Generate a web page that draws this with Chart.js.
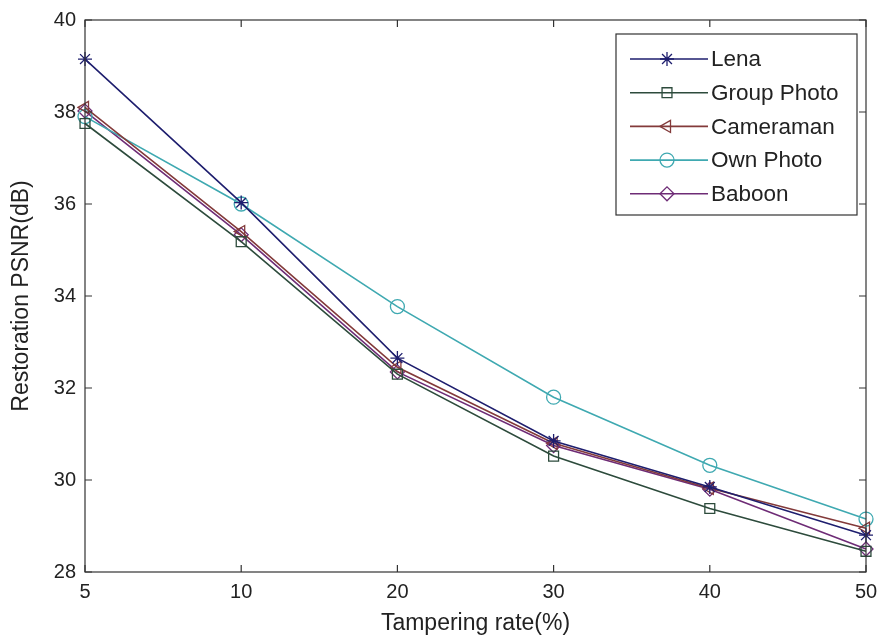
<!DOCTYPE html>
<html>
<head>
<meta charset="utf-8">
<script src="https://cdn.jsdelivr.net/npm/chart.js@4"></script>
<style>
  html, body { margin: 0; padding: 0; background: #fff; }
  #wrap { width: 880px; height: 643px; position: relative; }
</style>
</head>
<body>
<div id="wrap"><canvas id="psnrChart"></canvas></div>
<script>
// Datos
const tamperingRates = ['5', '10', '20', '30', '40', '50'];
const lena = [39.15, 36.03, 32.65, 30.85, 29.85, 28.8];
const groupPhoto = [37.75, 35.18, 32.3, 30.52, 29.38, 28.45];
const cameraman = [38.1, 35.4, 32.45, 30.8, 29.82, 28.95];
const ownPhoto = [37.9, 36.0, 33.77, 31.8, 30.32, 29.15];
const baboon = [38.02, 35.33, 32.35, 30.75, 29.8, 28.5];
const yTicks = [28, 30, 32, 34, 36, 38, 40];

const FONT = 'Arial, "Liberation Sans", sans-serif';

// Marco y marcas hacia dentro (estilo MATLAB)
const boxTicks = {
    id: 'boxTicks',
    afterDraw(chart) {
        const { ctx, chartArea: a, scales } = chart;
        const len = 7;
        ctx.save();
        ctx.strokeStyle = '#333';
        ctx.lineWidth = 1.2;
        ctx.strokeRect(a.left, a.top, a.right - a.left, a.bottom - a.top);
        ctx.beginPath();
        scales.x.ticks.forEach((t, i) => {
            const x = scales.x.getPixelForTick(i);
            ctx.moveTo(x, a.bottom); ctx.lineTo(x, a.bottom - len);
            ctx.moveTo(x, a.top); ctx.lineTo(x, a.top + len);
        });
        scales.y.ticks.forEach(t => {
            const y = scales.y.getPixelForValue(t.value);
            ctx.moveTo(a.left, y); ctx.lineTo(a.left + len, y);
            ctx.moveTo(a.right, y); ctx.lineTo(a.right - len, y);
        });
        ctx.stroke();
        ctx.restore();
    }
};

// Leyenda dentro del área del gráfico
const innerLegend = {
    id: 'innerLegend',
    afterDraw(chart) {
        const { ctx } = chart;
        const box = { left: 616, top: 34, right: 857, bottom: 215 };
        const rowTop = 59, rowGap = 33.7;
        ctx.save();
        ctx.fillStyle = '#fff';
        ctx.fillRect(box.left, box.top, box.right - box.left, box.bottom - box.top);
        ctx.strokeStyle = '#333';
        ctx.lineWidth = 1.2;
        ctx.strokeRect(box.left, box.top, box.right - box.left, box.bottom - box.top);
        chart.data.datasets.forEach((ds, i) => {
            const y = rowTop + i * rowGap;
            ctx.strokeStyle = ds.borderColor;
            ctx.lineWidth = ds.borderWidth;
            ctx.beginPath();
            ctx.moveTo(630, y); ctx.lineTo(708, y);
            ctx.stroke();
            ctx.fillStyle = 'rgba(0,0,0,0)';
            ctx.lineWidth = 1.3;
            if (Chart.helpers && Chart.helpers.drawPoint) {
                Chart.helpers.drawPoint(ctx, {
                    pointStyle: ds.pointStyle,
                    rotation: ds.pointRotation || 0,
                    radius: ds.pointRadius,
                    borderWidth: 1.3
                }, 667, y);
            }
            ctx.fillStyle = '#222';
            ctx.font = '22.5px ' + FONT;
            ctx.textBaseline = 'middle';
            ctx.textAlign = 'left';
            ctx.fillText(ds.label, 711, y + 1);
        });
        ctx.restore();
    }
};

function serie(label, data, color, style, rotation) {
    return {
        label: label,
        data: data,
        borderColor: color,
        backgroundColor: color,
        borderWidth: 1.6,
        pointStyle: style,
        pointRotation: rotation || 0,
        pointRadius: 7,
        pointBorderWidth: 1.3,
        pointBorderColor: color,
        pointBackgroundColor: 'rgba(0,0,0,0)',
        tension: 0,
        fill: false
    };
}

function init() {
    new Chart(document.getElementById('psnrChart'), {
        type: 'line',
        data: {
            labels: tamperingRates,
            datasets: [
                serie('Lena', lena, '#1e1e6e', 'star'),
                serie('Group Photo', groupPhoto, '#2d4b3c', 'rect'),
                serie('Cameraman', cameraman, '#833a3a', 'triangle', -90),
                serie('Own Photo', ownPhoto, '#3fa9b1', 'circle'),
                serie('Baboon', baboon, '#6e2c76', 'rectRot')
            ]
        },
        options: {
            responsive: true,
            maintainAspectRatio: false,
            animation: false,
            layout: { padding: { top: 20, right: 14, left: 0, bottom: 0 } },
            plugins: {
                legend: { display: false },
                tooltip: { enabled: false }
            },
            scales: {
                x: {
                    type: 'category',
                    offset: false,
                    grid: { display: false, drawTicks: false },
                    border: { display: false },
                    ticks: { color: '#222', font: { size: 20, family: FONT }, padding: 8, maxRotation: 0 },
                    title: {
                        display: true,
                        text: 'Tampering rate(%)',
                        color: '#222',
                        font: { size: 23, family: FONT },
                        padding: { top: 0, bottom: 6 }
                    },
                    afterFit(scale) {
                        scale.height = 71;
                        scale.paddingLeft = 0;
                        scale.paddingRight = 0;
                    }
                },
                y: {
                    min: 28,
                    max: 40,
                    afterBuildTicks(scale) { scale.ticks = yTicks.map(v => ({ value: v })); },
                    grid: { display: false, drawTicks: false },
                    border: { display: false },
                    ticks: { color: '#222', font: { size: 20, family: FONT }, padding: 9 },
                    title: {
                        display: true,
                        text: 'Restoration PSNR(dB)',
                        color: '#222',
                        font: { size: 23, family: FONT },
                        padding: { top: 8, bottom: 0 }
                    },
                    afterFit(scale) {
                        scale.width = 85;
                        scale.paddingTop = 0;
                        scale.paddingBottom = 0;
                    }
                }
            }
        },
        plugins: [boxTicks, innerLegend]
    });
}

document.addEventListener('DOMContentLoaded', init);
</script>
</body>
</html>
